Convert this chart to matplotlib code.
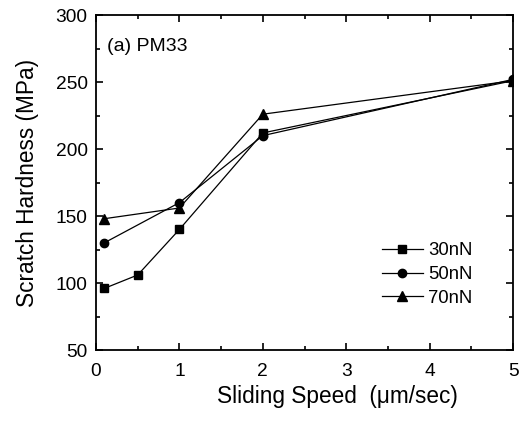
import matplotlib
matplotlib.use("Agg")
import matplotlib.pyplot as plt
from matplotlib.ticker import MultipleLocator

plt.rcParams['font.family'] = ['Liberation Sans', 'DejaVu Sans']

x30 = [0.1, 0.5, 1, 2, 5]
y30 = [96, 106, 140, 212, 251]
x50 = [0.1, 1, 2, 5]
y50 = [130, 160, 210, 252]
x70 = [0.1, 1, 2, 5]
y70 = [148, 156, 226, 251]
labels = ['30nN', '50nN', '70nN']

fig = plt.figure(figsize=(5.24, 4.21), dpi=100)
ax = fig.add_axes([0.1832, 0.1686, 0.796, 0.7957])

ax.plot(x30, y30, '-s', color='black', lw=0.9, ms=5.5, label=labels[0])
ax.plot(x50, y50, '-o', color='black', lw=0.9, ms=6, label=labels[1])
ax.plot(x70, y70, '-^', color='black', lw=0.9, ms=6.5, label=labels[2])

ax.set_xlim(0, 5)
ax.set_ylim(50, 300)
ax.xaxis.set_major_locator(MultipleLocator(1))
ax.xaxis.set_minor_locator(MultipleLocator(0.5))
ax.yaxis.set_major_locator(MultipleLocator(50))
ax.yaxis.set_minor_locator(MultipleLocator(25))
ax.tick_params(which='both', direction='in', top=True, right=True, labelsize=13.8, width=1.2)
ax.tick_params(which='major', length=5)
ax.tick_params(which='minor', length=3)
ax.tick_params(axis='x', which='major', pad=9)
ax.tick_params(axis='y', which='major', pad=6)
for s in ax.spines.values():
    s.set_linewidth(1.3)

ax.set_xlabel('Sliding Speed  (μm/sec)', fontsize=16.3, labelpad=4, x=0.578)
ax.set_ylabel('Scratch Hardness (MPa)', fontsize=16.3, labelpad=12)
ax.text(0.026, 0.93, '(a) PM33', transform=ax.transAxes, fontsize=14, va='top', ha='left')

ax.legend(loc='center left', bbox_to_anchor=(0.685, 0.225), frameon=False, fontsize=13.3,
          handlelength=2.25, handletextpad=0.27, labelspacing=0.36,
          borderpad=0, borderaxespad=0)

fig.savefig('out.png', dpi=100)
